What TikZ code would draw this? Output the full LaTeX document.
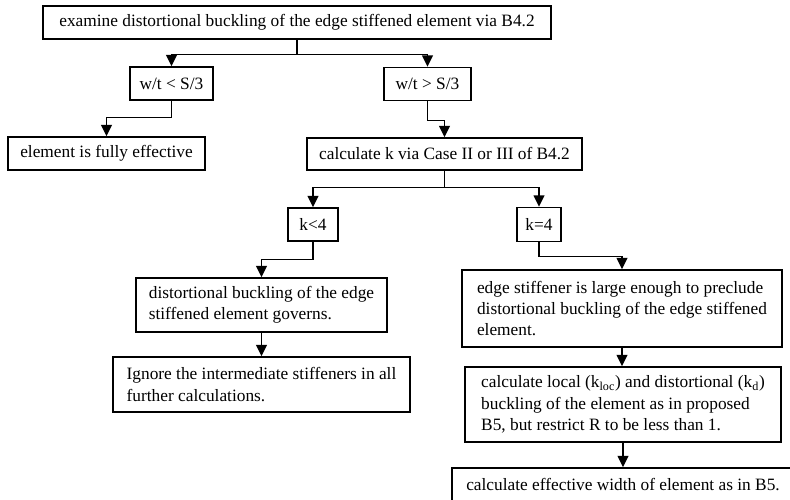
\documentclass[tikz,border=0pt]{standalone}
\usepackage{fontspec}
\setmainfont{Liberation Serif}
\usetikzlibrary{arrows.meta}
\begin{document}
\begin{tikzpicture}[x=0.75pt,y=-0.75pt,
	box/.style={draw,line width=1.1pt,inner sep=0pt,align=left,font=\fontsize{13}{16}\selectfont},
	arr/.style={line width=1.1pt,-{Triangle[length=8.5pt,width=8pt]}}]
	\useasboundingbox (0,0) rectangle (790,500);
	% first check
	\node [box,minimum width=381pt,minimum height=24.75pt] (exam) at (297,22.5) {examine distortional buckling of the edge stiffened element via B4.2};
	\node [box,minimum width=62.25pt,minimum height=24.75pt] (lt) at (171.5,83.5) {w/t < S/3};
	\node [box,minimum width=65.25pt,minimum height=24.75pt] (gt) at (427.5,84) {w/t > S/3};
	\node [box,minimum width=147.75pt,minimum height=24.75pt] (full) at (106.5,153.5) {element is fully effective};
	\node [box,minimum width=206.25pt,minimum height=24pt] (calck) at (444.5,154) {calculate k via Case II or III of B4.2};
	% k branches
	\node [box,minimum width=37.5pt,minimum height=24.75pt] (kless) at (313,224.5) {k<4};
	\node [box,minimum width=33pt,minimum height=25.5pt] (keq) at (539,224.5) {k=4};
	\node [box,minimum width=188.25pt,minimum height=40.5pt] (dist) at (261.5,305) {distortional buckling of the edge\\stiffened element governs.};
	\node [box,minimum width=222.75pt,minimum height=41.25pt] (ignore) at (261.5,384.5) {Ignore the intermediate stiffeners in all\\further calculations.};
	\node [box,minimum width=240pt,minimum height=57.75pt] (edge) at (622,308.5) {edge stiffener is large enough to preclude\\distortional buckling of the edge stiffened\\element.};
	\node [box,minimum width=237pt,minimum height=56.25pt] (local) at (623,404.5) {calculate local (k\textsubscript{loc}) and distortional (k\textsubscript{d})\\buckling of the element as in proposed\\B5, but restrict R to be less than 1.};
	\node [box,minimum width=256.5pt,minimum height=24.75pt] (eff) at (623,484.5) {calculate effective width of element as in B5.};
	% connectors
	\draw [arr] (exam.south) -- ++(0,15) -| (lt.north);
	\draw [arr] (exam.south) -- ++(0,15) -| (gt.north);
	\draw [arr] (lt.south) -- ++(0,17) -| (full.north);
	\draw [arr] (gt.south) -- ++(0,19) -| (calck.north);
	\draw [arr] (calck.south) -- ++(0,17) -| (kless.north);
	\draw [arr] (calck.south) -- ++(0,17) -| (keq.north);
	\draw [arr] (kless.south) -- ++(0,18) -| (dist.north);
	\draw [arr] (keq.south) -- ++(0,14) -| (edge.north);
	\draw [arr] (dist.south) -- (dist.south |- ignore.north);
	\draw [arr] (edge.south) -- (edge.south |- local.north);
	\draw [arr] (local.south) -- (local.south |- eff.north);
\end{tikzpicture}
\end{document}
